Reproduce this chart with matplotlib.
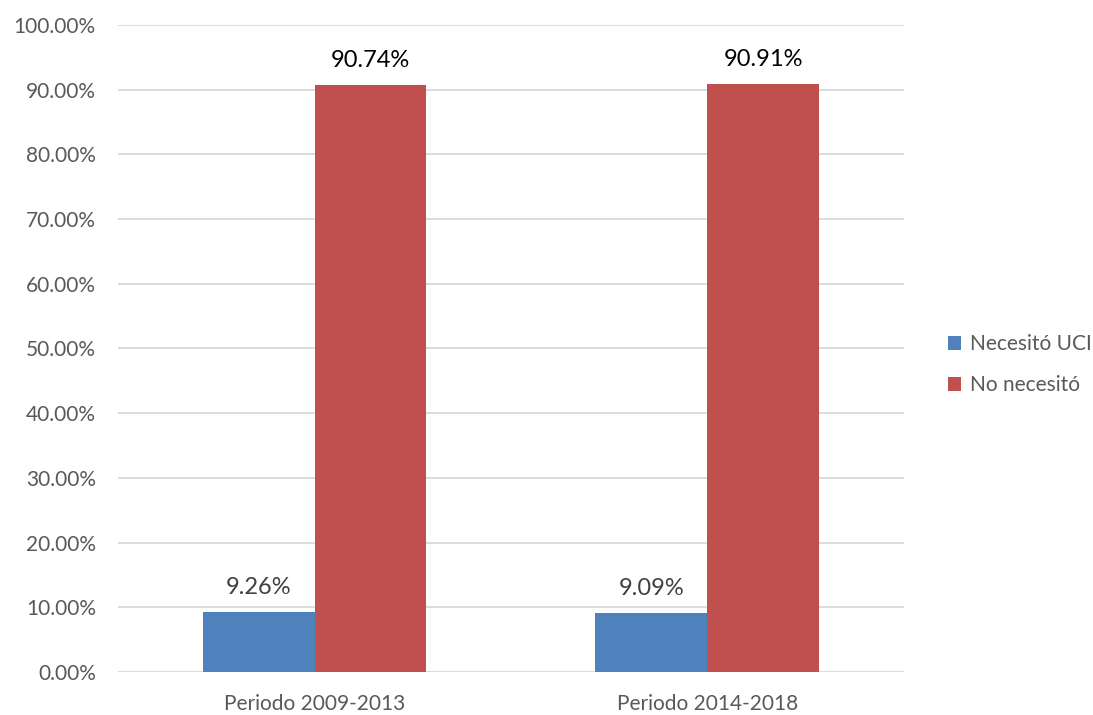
import matplotlib
matplotlib.use("Agg")
import matplotlib.pyplot as plt
import numpy as np
from matplotlib.ticker import PercentFormatter

plt.rcParams['font.family'] = ['Lato', 'DejaVu Sans']

categories = ['Periodo 2009-2013', 'Periodo 2014-2018']
series_names = ['Necesitó UCI', 'No necesitó']
necesito = [9.26, 9.09]
no_necesito = [90.74, 90.91]
colors = ['#4F81BD', '#C0504D']
label_colors = ['#404040', '#000000']

fig = plt.figure(figsize=(10.93, 7.15), dpi=100)
ax = fig.add_axes([0.108, 0.0601, 0.719, 0.905])

x = np.arange(len(categories))
w = 0.285
for i, (vals, name) in enumerate(zip([necesito, no_necesito], series_names)):
    pos = x + (i - 0.5) * w
    bars = ax.bar(pos, vals, w, color=colors[i], label=name, zorder=3)
    for b, v in zip(bars, vals):
        ax.annotate(f'{v:.2f}%', (b.get_x() + b.get_width() / 2, v),
                    xytext=(0, 10), textcoords='offset points',
                    ha='center', va='bottom', fontsize=17, color=label_colors[i])

ax.set_xlim(-0.5, 1.5)
ax.set_ylim(0, 100)
ax.set_yticks(np.arange(0, 101, 10))
ax.yaxis.set_major_formatter(PercentFormatter(decimals=2))
ax.set_xticks(x)
ax.set_xticklabels(categories)
ax.tick_params(length=0, labelsize=15, colors='#595959')
ax.tick_params(axis='y', pad=16)
ax.tick_params(axis='x', pad=16)
ax.grid(axis='y', color='#D9D9D9', linewidth=1.3, zorder=0)
for s in ax.spines.values():
    s.set_visible(False)

fig.legend(loc='center left', bbox_to_anchor=(0.85, 0.49), frameon=False,
           fontsize=15, labelcolor='#595959', handlelength=0.65, handleheight=0.65,
           handletextpad=0.4, labelspacing=1.0)

fig.savefig('out.png', dpi=100)
